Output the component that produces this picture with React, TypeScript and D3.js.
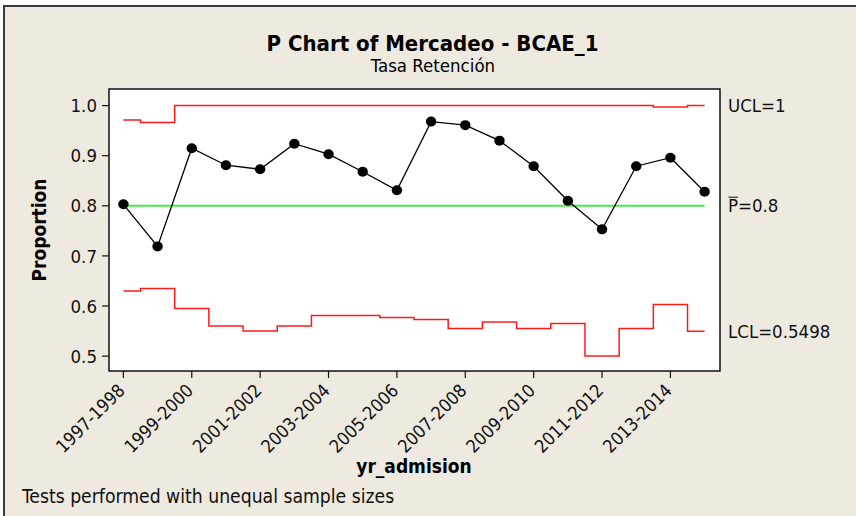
import React from "react";
import * as d3 from "d3";

const categories = [
  "1997-1998", "1998-1999", "1999-2000", "2000-2001", "2001-2002", "2002-2003",
  "2003-2004", "2004-2005", "2005-2006", "2006-2007", "2007-2008", "2008-2009",
  "2009-2010", "2010-2011", "2011-2012", "2012-2013", "2013-2014", "2014-2015",
];
const proportions = [
  0.803, 0.719, 0.915, 0.881, 0.873, 0.924, 0.903, 0.868, 0.831,
  0.968, 0.961, 0.930, 0.879, 0.810, 0.753, 0.879, 0.896, 0.828,
];
const ucl = [
  0.971, 0.966, 1, 1, 1, 1, 1, 1, 1,
  1, 1, 1, 1, 1, 1, 1, 0.997, 1,
];
const lcl = [
  0.630, 0.635, 0.595, 0.560, 0.550, 0.560, 0.581, 0.581, 0.577,
  0.573, 0.555, 0.568, 0.555, 0.565, 0.500, 0.555, 0.603, 0.5498,
];
const pBar = 0.8;
const yTicks = [0.5, 0.6, 0.7, 0.8, 0.9, 1.0];
const tickLabels = categories.filter((_, i) => i % 2 === 0);
const title = "P Chart of Mercadeo - BCAE_1";
const subtitle = "Tasa Retención";
const xTitle = "yr_admision";
const yTitle = "Proportion";
const footnote = "Tests performed with unequal sample sizes";
const uclLabel = "UCL=1";
const pLabel = "=0.8";
const lclLabel = "LCL=0.5498";

const W = 856;
const H = 516;
const plot = { left: 109, right: 720, top: 89, bottom: 371 };
const FONT = "'DejaVu Sans Condensed', 'DejaVu Sans', sans-serif";
const BG = "#EEEAE0";

export default function App() {
  const idx = categories.map((_, i) => i);
  const x = d3.scaleLinear().domain([-0.421, 17.45]).range([plot.left, plot.right]);
  const y = d3.scaleLinear().domain([0.4703, 1.0331]).range([plot.bottom, plot.top]);

  const stepLine = d3
    .line<number>()
    .x((_, i) => x(i))
    .y((d) => y(d))
    .curve(d3.curveStep);
  const dataLine = d3
    .line<number>()
    .x((_, i) => x(i))
    .y((d) => y(d));

  const textStyle: React.CSSProperties = { fontFamily: FONT, fontStretch: "condensed" };

  return (
    <svg
      width={W}
      height={H}
      style={{ position: "absolute", left: 0, top: 0, display: "block", background: "#fff" }}
    >
      <rect x={4} y={6} width={W + 10} height={H + 10} fill={BG} stroke="#3a3a3a" strokeWidth={2} />
      <g style={textStyle} fill="#000">
        <text x={432.5} y={51} textAnchor="middle" fontSize={22} fontWeight="bold">
          {title}
        </text>
        <text x={433} y={71.5} textAnchor="middle" fontSize={18.5}>
          {subtitle}
        </text>
      </g>

      <rect
        x={plot.left}
        y={plot.top}
        width={plot.right - plot.left}
        height={plot.bottom - plot.top}
        fill="#fff"
        stroke="#111"
        strokeWidth={1.5}
      />

      {/* y axis ticks */}
      {yTicks.map((t) => (
        <g key={t}>
          <line x1={plot.left - 7} x2={plot.left} y1={y(t)} y2={y(t)} stroke="#111" strokeWidth={1.2} />
          <text
            x={97}
            y={y(t)}
            dy="0.36em"
            textAnchor="end"
            fontSize={18.5}
            style={textStyle}
            fill="#111"
          >
            {d3.format(".1f")(t)}
          </text>
        </g>
      ))}

      {/* x axis ticks */}
      {idx
        .filter((i) => i % 2 === 0)
        .map((i, k) => (
          <g key={i}>
            <line x1={x(i)} x2={x(i)} y1={plot.bottom} y2={plot.bottom + 7} stroke="#111" strokeWidth={1.2} />
            <text
              transform={`translate(${x(i) - 2},${387}) rotate(-45)`}
              dy="0.36em"
              textAnchor="end"
              fontSize={18}
              style={textStyle}
              fill="#111"
            >
              {tickLabels[k]}
            </text>
          </g>
        ))}

      {/* limits */}
      <path d={stepLine(ucl) || ""} fill="none" stroke="#ff1a1a" strokeWidth={1.5} />
      <path d={stepLine(lcl) || ""} fill="none" stroke="#ff1a1a" strokeWidth={1.5} />
      <line
        x1={x(0)}
        x2={x(categories.length - 1)}
        y1={y(pBar)}
        y2={y(pBar)}
        stroke="#44ee44"
        strokeWidth={2}
      />

      {/* data */}
      <path d={dataLine(proportions) || ""} fill="none" stroke="#000" strokeWidth={1.3} />
      {proportions.map((p, i) => (
        <ellipse key={i} cx={x(i)} cy={y(p)} rx={5.2} ry={5} fill="#000" />
      ))}

      {/* right labels */}
      <g style={textStyle} fontSize={18.5} fill="#111">
        <text x={728} y={y(1)} dy="0.36em">
          {uclLabel}
        </text>
        <text x={728} y={y(pBar)} dy="0.36em">
          <tspan>P</tspan>
          <tspan>{pLabel}</tspan>
        </text>
        <line x1={728.5} x2={738} y1={197.2} y2={197.2} stroke="#111" strokeWidth={1} />
        <text x={728} y={y(lcl[lcl.length - 1])} dy="0.36em">
          {lclLabel}
        </text>
      </g>

      {/* axis titles */}
      <text x={414} y={473} textAnchor="middle" fontSize={19} fontWeight="bold" style={textStyle} fill="#000">
        {xTitle}
      </text>
      <text
        transform="translate(46,230) rotate(-90)"
        textAnchor="middle"
        fontSize={19}
        fontWeight="bold"
        style={textStyle}
        fill="#000"
      >
        {yTitle}
      </text>
      <text x={22} y={502.5} fontSize={19.2} style={textStyle} fill="#111">
        {footnote}
      </text>
    </svg>
  );
}
